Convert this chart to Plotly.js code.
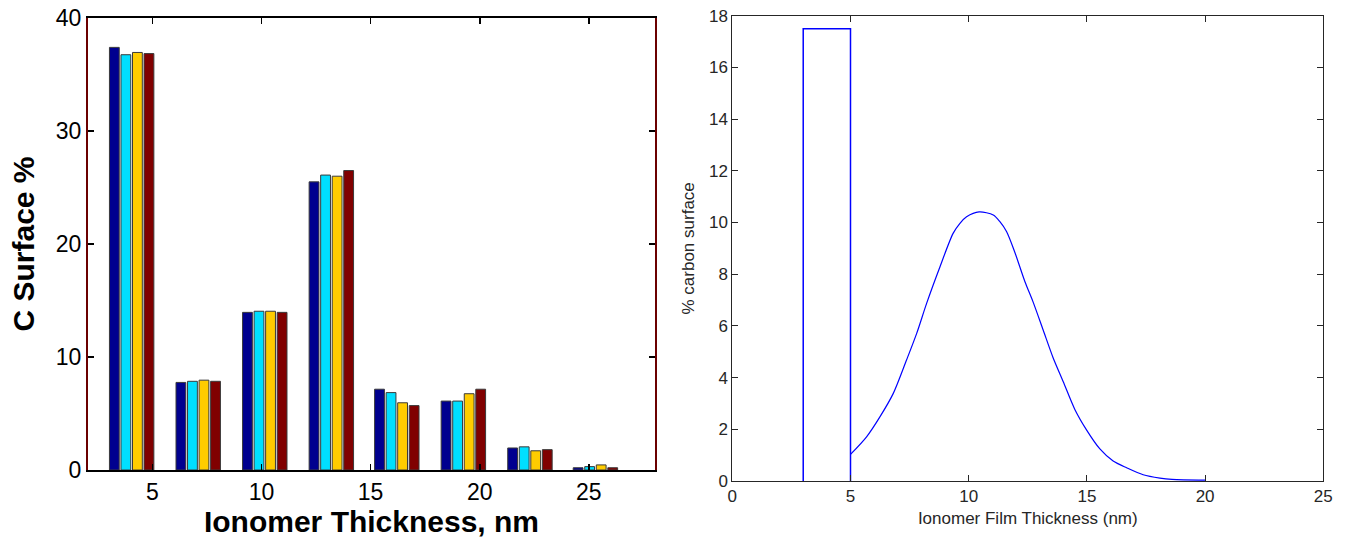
<!DOCTYPE html>
<html>
<head>
<meta charset="utf-8">
<script src="https://cdn.plot.ly/plotly-3.0.1.min.js"></script>
<style>
  html, body { margin: 0; padding: 0; background: #fff; }
  #chart { width: 1345px; height: 539px; }
</style>
</head>
<body>
<div id="chart"></div>
<script>
// ---- Left chart: grouped bars ----
const groupCenters = [4.05, 7.1, 10.15, 13.2, 16.2, 19.25, 22.3, 25.3];
const seriesNavy   = [37.4, 7.75, 13.95, 25.5, 7.15, 6.1, 1.95, 0.2];
const seriesCyan   = [36.75, 7.85, 14.05, 26.1, 6.85, 6.1, 2.05, 0.3];
const seriesYellow = [36.95, 7.95, 14.05, 26.0, 5.95, 6.75, 1.7, 0.45];
const seriesRed    = [36.85, 7.85, 13.95, 26.5, 5.7, 7.15, 1.8, 0.2];
const leftXTicks = [5, 10, 15, 20, 25];
const leftYTicks = [0, 10, 20, 30, 40];

// ---- Right chart: rectangle + distribution curve ----
const rectX = [3, 3, 5, 5];
const rectY = [0, 17.5, 17.5, 0];
const curveX = [5.0, 5.68, 6.25, 6.81, 7.37, 7.8, 8.22, 8.75, 9.34, 9.63, 9.91, 10.44, 11.04,
                11.32, 11.6, 11.95, 12.38, 12.73, 13.15, 13.57, 14.0, 14.49, 14.99, 15.55, 16.11,
                16.68, 17.38, 18.09, 18.6, 20.0];
const curveY = [1.03, 1.71, 2.49, 3.39, 4.68, 5.71, 6.87, 8.2, 9.58, 9.97, 10.22, 10.41, 10.29,
                10.03, 9.65, 8.85, 7.71, 6.91, 5.84, 4.77, 3.84, 2.77, 1.97, 1.24, 0.77,
                0.51, 0.24, 0.11, 0.06, 0.03];
const rightXTicks = [0, 5, 10, 15, 20, 25];
const rightYTicks = [0, 2, 4, 6, 8, 10, 12, 14, 16, 18];

const barColors = ['#00008f', '#00dfff', '#ffcc00', '#800000'];
const barSeries = [seriesNavy, seriesCyan, seriesYellow, seriesRed];
const edge = { color: '#3a3a3a', width: 1 };

const traces = barSeries.map((vals, i) => ({
  type: 'bar',
  x: groupCenters,
  y: vals,
  xaxis: 'x', yaxis: 'y',
  marker: { color: barColors[i], line: edge },
  showlegend: false,
  hoverinfo: 'x+y'
}));

traces.push({
  type: 'scatter', mode: 'lines',
  x: rectX, y: rectY,
  xaxis: 'x2', yaxis: 'y2',
  line: { color: '#0000ff', width: 1.5 },
  showlegend: false
});
traces.push({
  type: 'scatter', mode: 'lines',
  x: curveX, y: curveY,
  xaxis: 'x2', yaxis: 'y2',
  line: { color: '#0000ff', width: 1.2, shape: 'spline', smoothing: 0.8 },
  showlegend: false
});

const FONT = 'Liberation Sans, Arial, Helvetica, sans-serif';

const layout = {
  width: 1345, height: 539,
  margin: { l: 0, r: 0, t: 0, b: 0 },
  paper_bgcolor: '#ffffff',
  plot_bgcolor: '#ffffff',
  font: { family: FONT, color: '#000' },
  barmode: 'group',
  bargap: 0.295,
  bargroupgap: 0.15,
  xaxis: {
    domain: [88/1345, 655/1345],
    range: [2.05, 28.03],
    tickmode: 'array', tickvals: leftXTicks, ticktext: leftXTicks.map(String),
    ticks: 'inside', ticklen: 6, tickwidth: 1.5, tickcolor: '#000',
    showline: true, linecolor: '#000', linewidth: 2, mirror: 'ticks',
    showgrid: false, zeroline: false,
    tickfont: { family: FONT, size: 23, color: '#000' },
    title: { text: '<b>Ionomer Thickness, nm</b>', font: { family: FONT, size: 30, color: '#000' }, standoff: 6 }
  },
  yaxis: {
    domain: [69/539, 521/539],
    range: [0, 40],
    tickmode: 'array', tickvals: leftYTicks, ticktext: leftYTicks.map(String),
    ticks: 'inside', ticklen: 6, tickwidth: 1.5, tickcolor: '#000',
    showline: true, linecolor: '#6b0000', linewidth: 2, mirror: 'ticks',
    showgrid: false, zeroline: false,
    tickfont: { family: FONT, size: 23, color: '#000' },
    title: { text: '<b>C Surface %</b>', font: { family: FONT, size: 30, color: '#000' }, standoff: 12 }
  },
  xaxis2: {
    domain: [732.3/1345, 1323.3/1345],
    anchor: 'y2',
    range: [0, 25],
    tickmode: 'array', tickvals: rightXTicks, ticktext: rightXTicks.map(String),
    ticks: 'inside', ticklen: 6, tickwidth: 1, tickcolor: '#262626',
    showline: true, linecolor: '#262626', linewidth: 1, mirror: 'ticks',
    showgrid: false, zeroline: false,
    tickfont: { family: FONT, size: 17, color: '#262626' },
    title: { text: 'Ionomer Film Thickness (nm)', font: { family: FONT, size: 17, color: '#262626' }, standoff: 6 }
  },
  yaxis2: {
    domain: [58/539, 523.3/539],
    anchor: 'x2',
    range: [0, 18],
    tickmode: 'array', tickvals: rightYTicks, ticktext: rightYTicks.map(String),
    ticks: 'inside', ticklen: 6, tickwidth: 1, tickcolor: '#262626',
    showline: true, linecolor: '#262626', linewidth: 1, mirror: 'ticks',
    showgrid: false, zeroline: false,
    tickfont: { family: FONT, size: 17, color: '#262626' },
    title: { text: '% carbon surface', font: { family: FONT, size: 17, color: '#262626' }, standoff: 10 }
  }
};

Plotly.newPlot('chart', traces, layout, { displayModeBar: false, staticPlot: true });
</script>
</body>
</html>
